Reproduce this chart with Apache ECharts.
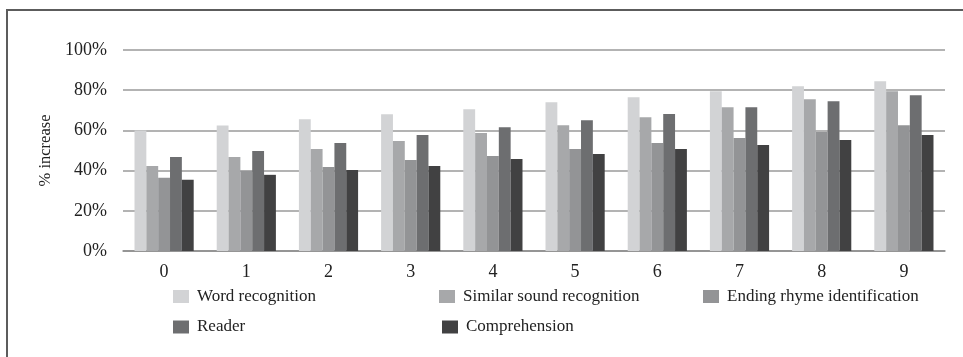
<!DOCTYPE html>
<html>
<head>
<meta charset="utf-8">
<script src="https://cdn.jsdelivr.net/npm/echarts@6/dist/echarts.min.js"></script>
<style>
  html, body { margin: 0; padding: 0; background: #ffffff; }
  #chart { width: 963px; height: 357px; }
</style>
</head>
<body>
<div id="chart"></div>
<script>
// Categories along the x axis
var categories = ['0', '1', '2', '3', '4', '5', '6', '7', '8', '9'];

// Percentage increase per measure
var wordRecognition = [60, 62.5, 65.5, 68, 70.5, 74, 76.5, 79.5, 82, 84.5];
var similarSound = [42.3, 46.8, 50.7, 54.7, 58.7, 62.6, 66.6, 71.5, 75.5, 79.5];
var endingRhyme = [36.4, 39.9, 41.8, 45.3, 47.3, 50.7, 53.7, 56.2, 59.2, 62.6];
var reader = [46.8, 49.8, 53.7, 57.7, 61.6, 65.1, 68.1, 71.5, 74.5, 77.5];
var comprehension = [35.4, 37.9, 40.3, 42.3, 45.8, 48.3, 50.7, 52.7, 55.2, 57.7];

var seriesNames = ['Word recognition', 'Similar sound recognition', 'Ending rhyme identification', 'Reader', 'Comprehension'];
var seriesData = [wordRecognition, similarSound, endingRhyme, reader, comprehension];
var seriesColors = ['#d2d3d5', '#a7a8aa', '#939496', '#6d6e70', '#414142'];

var serif = '"Liberation Serif", "DejaVu Serif", serif';

// One legend block per entry, laid out in a three-column grid
var legendSlots = [
  { left: 173, top: 288 },
  { left: 439, top: 288 },
  { left: 703, top: 288 },
  { left: 173, top: 318.5 },
  { left: 442, top: 318.5 }
];

var legends = seriesNames.map(function (name, i) {
  return {
    data: [name],
    left: legendSlots[i].left,
    top: legendSlots[i].top,
    orient: 'horizontal',
    padding: 0,
    itemWidth: 16,
    itemHeight: 13,
    icon: 'rect',
    selectedMode: false,
    textStyle: { fontFamily: serif, fontSize: 17, color: '#222222', padding: [0, 0, 0, 3] }
  };
});

var series = seriesNames.map(function (name, i) {
  return {
    name: name,
    type: 'bar',
    data: seriesData[i],
    barGap: '0%',
    barCategoryGap: '28%',
    itemStyle: { color: seriesColors[i] },
    emphasis: { disabled: true }
  };
});

var chart = echarts.init(document.getElementById('chart'), null, { renderer: 'canvas' });
chart.setOption({
  animation: false,
  backgroundColor: '#ffffff',
  graphic: [
    {
      type: 'rect',
      shape: { x: 7, y: 10, width: 1000, height: 400 },
      style: { fill: 'none', stroke: '#5c5c5c', lineWidth: 2 },
      silent: true
    }
  ],
  legend: legends,
  grid: { left: 123, right: 18, top: 50, bottom: 106, containLabel: false },
  xAxis: {
    type: 'category',
    data: categories,
    axisLine: { show: true, lineStyle: { color: '#8c8c8c', width: 1.5 } },
    axisTick: { show: false },
    axisLabel: { fontFamily: serif, fontSize: 18, color: '#222222', margin: 12 },
    splitLine: { show: false }
  },
  yAxis: {
    type: 'value',
    min: 0,
    max: 100,
    interval: 20,
    name: '% increase',
    nameLocation: 'middle',
    nameGap: 69,
    nameTextStyle: { fontFamily: serif, fontSize: 16.5, color: '#222222' },
    axisLine: { show: false },
    axisTick: { show: false },
    axisLabel: { fontFamily: serif, fontSize: 18, color: '#222222', margin: 16, formatter: '{value}%' },
    splitLine: { show: true, lineStyle: { color: '#9a9a9a', width: 1.5 } }
  },
  series: series
});
</script>
</body>
</html>
